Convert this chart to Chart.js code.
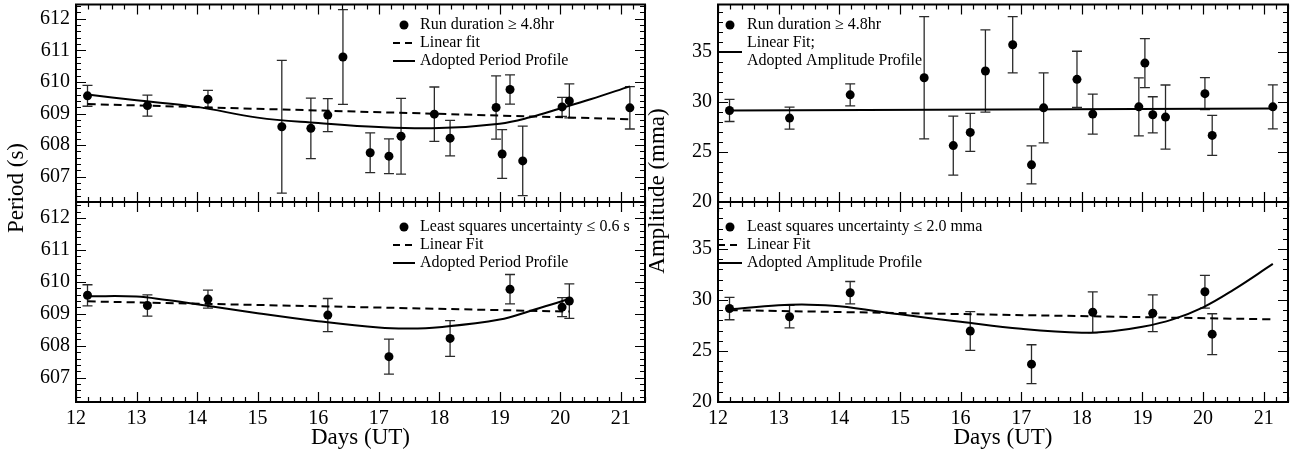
<!DOCTYPE html>
<html>
<head>
<meta charset="utf-8">
<script src="https://cdn.jsdelivr.net/npm/chart.js@4.4.1/dist/chart.umd.min.js"></script>
<style>
  body { margin: 0; background: #fff; }
  #wrap { position: relative; width: 1304px; height: 453px; overflow: hidden; }
  #wrap canvas { position: absolute; left: 0; top: 0; }
</style>
</head>
<body>
<div id="wrap">
  <canvas id="tl" width="1304" height="453"></canvas>
  <canvas id="bl" width="1304" height="453"></canvas>
  <canvas id="tr" width="1304" height="453"></canvas>
  <canvas id="br" width="1304" height="453"></canvas>
</div>
<script>
// runs longer than 4.8 hr
let days      = [12.19, 13.18, 14.18, 15.40, 15.88, 16.16, 16.41, 16.86, 17.17, 17.37, 17.92, 18.18, 18.94, 19.04, 19.17, 19.38, 20.03, 20.15, 21.15];
let period    = [609.56, 609.25, 609.45, 608.58, 608.53, 608.95, 610.79, 607.76, 607.65, 608.28, 608.98, 608.22, 609.19, 607.72, 609.76, 607.50, 609.21, 609.40, 609.18];
let periodErr = [0.33, 0.33, 0.28, 2.10, 0.96, 0.52, 1.50, 0.63, 0.55, 1.20, 0.86, 0.56, 1.00, 0.77, 0.46, 1.10, 0.30, 0.54, 0.67];
let amp       = [29.14, 28.38, 30.70, 32.41, 25.63, 26.95, 33.08, 35.70, 23.71, 29.40, 32.25, 28.78, 29.50, 33.87, 28.71, 28.48, 30.82, 26.65, 29.50];
let ampErr    = [1.1, 1.1, 1.1, 6.1, 2.95, 1.9, 4.1, 2.8, 1.9, 3.5, 2.8, 2.0, 2.9, 2.45, 1.8, 3.2, 1.6, 2.0, 2.2];

// least squares subset
let lsqDays      = [12.19, 13.18, 14.18, 16.16, 17.17, 18.18, 19.17, 20.03, 20.15];
let lsqPeriod    = [609.58, 609.26, 609.46, 608.96, 607.66, 608.23, 609.77, 609.21, 609.40];
let lsqPeriodErr = [0.33, 0.33, 0.28, 0.52, 0.55, 0.56, 0.46, 0.30, 0.54];
let lsqAmp       = [29.16, 28.36, 30.71, 26.96, 23.71, 28.79, 28.70, 30.80, 26.65];
let lsqAmpErr    = [1.1, 1.1, 1.1, 1.9, 1.9, 2.0, 1.8, 1.6, 2.0];

// fit lines
let perFitDays  = [12.19, 21.15];
let perFit      = [609.30, 608.82];
let perProfDays = [12.19, 13, 14, 15, 16, 17, 18, 19, 19.5, 20, 20.5, 21.15];
let perProf     = [609.60, 609.42, 609.21, 608.87, 608.70, 608.57, 608.54, 608.68, 608.88, 609.16, 609.45, 609.86];

let lsqPerFitDays  = [12.19, 20.15];
let lsqPerFit      = [609.39, 609.07];
let lsqPerProfDays = [12.19, 13, 13.5, 14, 15, 16, 17, 17.5, 18, 19, 19.5, 20, 20.15];
let lsqPerProf     = [609.55, 609.54, 609.43, 609.30, 609.02, 608.77, 608.57, 608.54, 608.58, 608.82, 609.09, 609.38, 609.47];

let ampFitDays = [12.19, 21.15];
let ampFit     = [29.14, 29.34];

let lsqAmpFitDays  = [12.19, 21.15];
let lsqAmpFit      = [29.00, 28.10];
let lsqAmpProfDays = [12.19, 13, 13.5, 14, 15, 16, 17, 18, 18.5, 19, 19.5, 20, 20.5, 21.15];
let lsqAmpProf     = [29.08, 29.48, 29.54, 29.38, 28.59, 27.86, 27.17, 26.78, 26.94, 27.37, 28.10, 29.28, 30.99, 33.53];

let dayTicks    = [12, 13, 14, 15, 16, 17, 18, 19, 20, 21];
let periodTicks = [607, 608, 609, 610, 611, 612];
let ampTicks    = [20, 25, 30, 35];

const SERIF = "'Liberation Serif', 'DejaVu Serif', serif";

function pts(xs, ys) {
    return xs.map((x, i) => ({ x: x, y: ys[i] }));
}

// layout of each panel (pixels)
const panels = {
    tl: { pad: { left: 0, top: 4, right: 659, bottom: 251 }, yw: 76, ymin: 606.2, ymax: 612.45, yticks: periodTicks,
          minorY: 0.2, majorY: 1, bottom: false, err: periodErr,
          legend: { dotX: 404, lineL: 393, lineR: 415, textX: 420, y0: 25, dy: 18,
                    texts: ['Run duration \u2265 4.8hr', 'Linear fit', 'Adopted Period Profile'],
                    syms: [{ t: 'dot', row: 0 }, { t: 'dash', row: 1 }, { t: 'line', row: 2 }] },
          title: { text: 'Period (s)', x: 17, y: 188 } },
    bl: { pad: { left: 0, top: 202, right: 659, bottom: 0 }, yw: 76, ymin: 606.24, ymax: 612.5, yticks: periodTicks,
          minorY: 0.2, majorY: 1, bottom: true, err: lsqPeriodErr,
          legend: { dotX: 404, lineL: 393, lineR: 415, textX: 420, y0: 227, dy: 18,
                    texts: ['Least squares uncertainty \u2264 0.6 s', 'Linear Fit', 'Adopted Period Profile'],
                    syms: [{ t: 'dot', row: 0 }, { t: 'dash', row: 1 }, { t: 'line', row: 2 }] } },
    tr: { pad: { left: 652, top: 4, right: 16, bottom: 251 }, yw: 66, ymin: 20, ymax: 39.72, yticks: ampTicks,
          minorY: 1, majorY: 5, bottom: false, err: ampErr,
          legend: { dotX: 730, lineL: 718, lineR: 742, textX: 747, y0: 25, dy: 18,
                    texts: ['Run duration \u2265 4.8hr', 'Linear Fit;', 'Adopted Amplitude Profile'],
                    syms: [{ t: 'dot', row: 0 }, { t: 'line', row: 1.5 }] },
          title: { text: 'Amplitude (mma)', x: 658, y: 191 } },
    br: { pad: { left: 652, top: 202, right: 16, bottom: 0 }, yw: 66, ymin: 20, ymax: 39.6, yticks: ampTicks,
          minorY: 1, majorY: 5, bottom: true, err: lsqAmpErr,
          legend: { dotX: 730, lineL: 718, lineR: 742, textX: 747, y0: 227, dy: 18,
                    texts: ['Least squares uncertainty \u2264 2.0 mma', 'Linear Fit', 'Adopted Amplitude Profile'],
                    syms: [{ t: 'dot', row: 0 }, { t: 'dash', row: 1 }, { t: 'line', row: 2 }] } }
};

function tickValues(min, max, step) {
    const out = [];
    const k0 = Math.ceil(min / step - 1e-9), k1 = Math.floor(max / step + 1e-9);
    for (let k = k0; k <= k1; k++) out.push(k * step);
    return out;
}
function isMajor(v, major) {
    return Math.abs(v / major - Math.round(v / major)) < 1e-6;
}

// frame, inward ticks, error bars, legend, y title
const panelPlugin = {
    id: 'panelPlugin',
    beforeDatasetsDraw(chart) {
        const p = panels[chart.canvas.id];
        const ctx = chart.ctx, a = chart.chartArea, ys = chart.scales.y;
        const meta = chart.getDatasetMeta(0);
        const vals = chart.data.datasets[0].data;
        ctx.save();
        ctx.beginPath();
        ctx.rect(a.left, a.top, a.right - a.left, a.bottom - a.top);
        ctx.clip();
        ctx.strokeStyle = '#2a2a2a';
        ctx.lineWidth = 1.3;
        meta.data.forEach((el, i) => {
            const v = vals[i].y, e = p.err[i];
            const x = el.x;
            const y1 = ys.getPixelForValue(v + e), y2 = ys.getPixelForValue(v - e);
            ctx.beginPath();
            ctx.moveTo(x, y1); ctx.lineTo(x, y2);
            ctx.moveTo(x - 5, y1); ctx.lineTo(x + 5, y1);
            ctx.moveTo(x - 5, y2); ctx.lineTo(x + 5, y2);
            ctx.stroke();
        });
        ctx.restore();
    },
    afterDraw(chart) {
        const p = panels[chart.canvas.id];
        const ctx = chart.ctx, a = chart.chartArea;
        const xs = chart.scales.x, ys = chart.scales.y;
        ctx.save();
        ctx.strokeStyle = '#000';

        // ticks
        ctx.lineWidth = 1.2;
        ctx.beginPath();
        tickValues(xs.min, xs.max, 0.2).forEach(v => {
            const x = Math.round(xs.getPixelForValue(v)) + 0.5;
            const len = isMajor(v, 1) ? 10 : 5;
            ctx.moveTo(x, a.bottom); ctx.lineTo(x, a.bottom - len);
            ctx.moveTo(x, a.top); ctx.lineTo(x, a.top + len);
        });
        tickValues(ys.min, ys.max, p.minorY).forEach(v => {
            const y = Math.round(ys.getPixelForValue(v)) + 0.5;
            const len = isMajor(v, p.majorY) ? 10 : 5;
            ctx.moveTo(a.left, y); ctx.lineTo(a.left + len, y);
            ctx.moveTo(a.right, y); ctx.lineTo(a.right - len, y);
        });
        ctx.stroke();

        // frame
        ctx.lineWidth = 2;
        ctx.strokeRect(a.left, a.top, a.right - a.left, a.bottom - a.top);

        // legend
        const lg = p.legend;
        lg.syms.forEach(s => {
            const y = lg.y0 + s.row * lg.dy;
            if (s.t === 'dot') {
                ctx.fillStyle = '#000';
                ctx.beginPath();
                ctx.arc(lg.dotX, y, 4.5, 0, Math.PI * 2);
                ctx.fill();
            } else {
                ctx.lineWidth = 2;
                ctx.setLineDash(s.t === 'dash' ? [7, 5] : []);
                ctx.beginPath();
                ctx.moveTo(lg.lineL, y);
                ctx.lineTo(lg.lineR, y);
                ctx.stroke();
                ctx.setLineDash([]);
            }
        });
        ctx.fillStyle = '#000';
        ctx.font = '16px ' + SERIF;
        ctx.textAlign = 'left';
        ctx.textBaseline = 'middle';
        lg.texts.forEach((t, i) => ctx.fillText(t, lg.textX, lg.y0 + i * lg.dy));

        // shared y title
        if (p.title) {
            ctx.translate(p.title.x, p.title.y);
            ctx.rotate(-Math.PI / 2);
            ctx.font = '23px ' + SERIF;
            ctx.textAlign = 'center';
            ctx.textBaseline = 'middle';
            ctx.fillText(p.title.text, 0, 0);
        }
        ctx.restore();
    }
};

function makePanel(id, datasets) {
    const p = panels[id];
    return new Chart(document.getElementById(id), {
        type: 'scatter',
        data: { datasets: datasets },
        options: {
            responsive: false,
            animation: false,
            layout: { padding: p.pad },
            plugins: { legend: { display: false }, tooltip: { enabled: false } },
            scales: {
                x: {
                    type: 'linear', min: 12, max: 21.4,
                    display: p.bottom,
                    afterFit: s => {
                        s.height = p.bottom ? 51 : 0;
                        s.paddingLeft = 0; s.paddingRight = 0;
                    },
                    afterBuildTicks: s => { s.ticks = dayTicks.map(v => ({ value: v })); },
                    grid: { display: false, drawTicks: false },
                    border: { display: false },
                    ticks: { autoSkip: false, maxRotation: 0, padding: 5, color: '#000', font: { family: SERIF, size: 20 } },
                    title: { display: true, text: 'Days (UT)', color: '#000', font: { family: SERIF, size: 23 }, padding: { top: 0, bottom: 1 } }
                },
                y: {
                    type: 'linear', min: p.ymin, max: p.ymax,
                    afterFit: s => {
                        s.width = p.yw;
                        s.paddingTop = 0; s.paddingBottom = 0;
                    },
                    afterBuildTicks: s => { s.ticks = p.yticks.map(v => ({ value: v })); },
                    grid: { display: false, drawTicks: false },
                    border: { display: false },
                    ticks: { autoSkip: false, padding: 6, color: '#000', font: { family: SERIF, size: 20 } }
                }
            }
        },
        plugins: [panelPlugin]
    });
}

function pointSet(label, xs, ys) {
    return { label: label, data: pts(xs, ys), pointRadius: 4.5, pointBackgroundColor: '#000', pointBorderWidth: 0, showLine: false };
}
function lineSet(label, xs, ys, dashed) {
    return { label: label, data: pts(xs, ys), showLine: true, pointRadius: 0, borderColor: '#000', borderWidth: 2,
             borderDash: dashed ? [8, 5] : [], tension: 0.4, fill: false };
}

makePanel('tl', [
    pointSet('Run duration \u2265 4.8hr', days, period),
    lineSet('Linear fit', perFitDays, perFit, true),
    lineSet('Adopted Period Profile', perProfDays, perProf, false)
]);
makePanel('bl', [
    pointSet('Least squares uncertainty \u2264 0.6 s', lsqDays, lsqPeriod),
    lineSet('Linear Fit', lsqPerFitDays, lsqPerFit, true),
    lineSet('Adopted Period Profile', lsqPerProfDays, lsqPerProf, false)
]);
makePanel('tr', [
    pointSet('Run duration \u2265 4.8hr', days, amp),
    lineSet('Linear Fit; Adopted Amplitude Profile', ampFitDays, ampFit, false)
]);
makePanel('br', [
    pointSet('Least squares uncertainty \u2264 2.0 mma', lsqDays, lsqAmp),
    lineSet('Linear Fit', lsqAmpFitDays, lsqAmpFit, true),
    lineSet('Adopted Amplitude Profile', lsqAmpProfDays, lsqAmpProf, false)
]);
</script>
</body>
</html>
